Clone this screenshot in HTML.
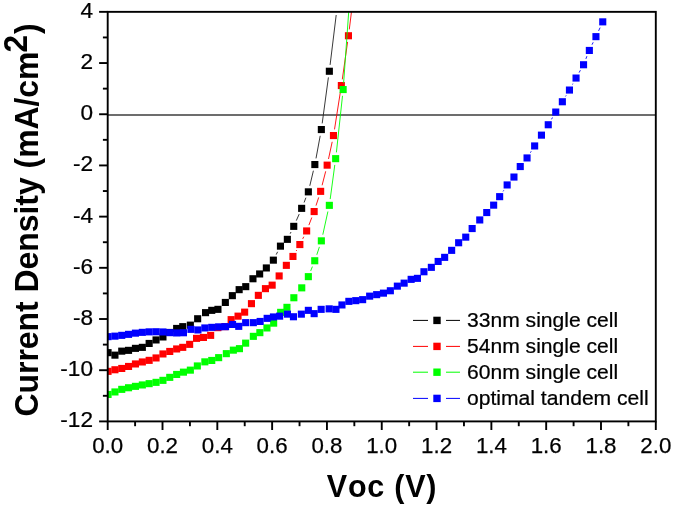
<!DOCTYPE html>
<html><head><meta charset="utf-8"><title>JV curves</title>
<style>html,body{margin:0;padding:0;background:#fff;}body{width:675px;height:506px;overflow:hidden;position:relative;font-family:"Liberation Sans",Arial,sans-serif;}</style>
</head><body>
<svg width="675" height="506" viewBox="0 0 675 506" style="position:absolute;left:0;top:0">
<rect width="675" height="506" fill="#fff"/>
<line x1="107.7" y1="115.0" x2="655.8" y2="115.0" stroke="#3c3c3c" stroke-width="1.3"/>
<defs><clipPath id="c"><rect x="107.7" y="11.85" width="548.0999999999999" height="409.54999999999995"/></clipPath></defs>
<g clip-path="url(#c)">
<line x1="276.2" y1="254.6" x2="277.6" y2="251.8" stroke="#222" stroke-width="0.9"/>
<line x1="290.2" y1="233.7" x2="291.0" y2="232.0" stroke="#222" stroke-width="0.9"/>
<line x1="296.3" y1="220.6" x2="299.2" y2="214.1" stroke="#222" stroke-width="0.9"/>
<line x1="304.1" y1="202.5" x2="305.9" y2="197.7" stroke="#222" stroke-width="0.9"/>
<line x1="309.8" y1="185.8" x2="313.4" y2="170.7" stroke="#222" stroke-width="0.9"/>
<line x1="316.0" y1="158.4" x2="320.2" y2="135.8" stroke="#222" stroke-width="0.9"/>
<line x1="322.2" y1="123.4" x2="328.4" y2="77.4" stroke="#222" stroke-width="0.9"/>
<line x1="330.1" y1="64.9" x2="336.2" y2="15.0" stroke="#222" stroke-width="0.9"/>
<rect x="104.5" y="349.1" width="7.1" height="7.1" fill="#000"/>
<rect x="111.4" y="351.6" width="7.1" height="7.1" fill="#000"/>
<rect x="118.2" y="347.6" width="7.1" height="7.1" fill="#000"/>
<rect x="125.0" y="346.8" width="7.1" height="7.1" fill="#000"/>
<rect x="131.9" y="344.8" width="7.1" height="7.1" fill="#000"/>
<rect x="138.8" y="343.8" width="7.1" height="7.1" fill="#000"/>
<rect x="145.6" y="339.9" width="7.1" height="7.1" fill="#000"/>
<rect x="152.5" y="336.4" width="7.1" height="7.1" fill="#000"/>
<rect x="159.4" y="333.4" width="7.1" height="7.1" fill="#000"/>
<rect x="166.2" y="328.9" width="7.1" height="7.1" fill="#000"/>
<rect x="173.1" y="324.9" width="7.1" height="7.1" fill="#000"/>
<rect x="179.2" y="323.1" width="7.1" height="7.1" fill="#000"/>
<rect x="186.8" y="321.6" width="7.1" height="7.1" fill="#000"/>
<rect x="194.1" y="315.2" width="7.1" height="7.1" fill="#000"/>
<rect x="202.0" y="309.1" width="7.1" height="7.1" fill="#000"/>
<rect x="208.2" y="306.8" width="7.1" height="7.1" fill="#000"/>
<rect x="214.4" y="305.8" width="7.1" height="7.1" fill="#000"/>
<rect x="221.8" y="298.9" width="7.1" height="7.1" fill="#000"/>
<rect x="228.8" y="292.1" width="7.1" height="7.1" fill="#000"/>
<rect x="235.6" y="286.1" width="7.1" height="7.1" fill="#000"/>
<rect x="242.2" y="283.1" width="7.1" height="7.1" fill="#000"/>
<rect x="249.4" y="275.2" width="7.1" height="7.1" fill="#000"/>
<rect x="256.1" y="270.4" width="7.1" height="7.1" fill="#000"/>
<rect x="262.8" y="264.4" width="7.1" height="7.1" fill="#000"/>
<rect x="269.8" y="256.6" width="7.1" height="7.1" fill="#000"/>
<rect x="276.9" y="242.6" width="7.1" height="7.1" fill="#000"/>
<rect x="283.8" y="235.8" width="7.1" height="7.1" fill="#000"/>
<rect x="290.2" y="222.8" width="7.1" height="7.1" fill="#000"/>
<rect x="298.1" y="204.8" width="7.1" height="7.1" fill="#000"/>
<rect x="304.8" y="188.3" width="7.1" height="7.1" fill="#000"/>
<rect x="311.3" y="161.0" width="7.1" height="7.1" fill="#000"/>
<rect x="317.8" y="126.0" width="7.1" height="7.1" fill="#000"/>
<rect x="325.8" y="67.7" width="7.1" height="7.1" fill="#000"/>
<line x1="296.2" y1="251.0" x2="296.7" y2="250.1" stroke="#ff0000" stroke-width="0.9"/>
<line x1="302.7" y1="238.9" x2="303.8" y2="236.7" stroke="#ff0000" stroke-width="0.9"/>
<line x1="308.9" y1="225.1" x2="311.8" y2="217.5" stroke="#ff0000" stroke-width="0.9"/>
<line x1="316.0" y1="205.6" x2="318.7" y2="197.4" stroke="#ff0000" stroke-width="0.9"/>
<line x1="322.1" y1="185.3" x2="325.7" y2="171.3" stroke="#ff0000" stroke-width="0.9"/>
<line x1="328.5" y1="159.0" x2="332.2" y2="141.8" stroke="#ff0000" stroke-width="0.9"/>
<line x1="334.5" y1="129.4" x2="340.4" y2="91.8" stroke="#ff0000" stroke-width="0.9"/>
<line x1="342.3" y1="79.4" x2="347.6" y2="41.9" stroke="#ff0000" stroke-width="0.9"/>
<line x1="349.3" y1="29.4" x2="351.8" y2="9.0" stroke="#ff0000" stroke-width="0.9"/>
<rect x="104.5" y="367.8" width="7.1" height="7.1" fill="#ff0000"/>
<rect x="111.4" y="366.2" width="7.1" height="7.1" fill="#ff0000"/>
<rect x="118.2" y="364.9" width="7.1" height="7.1" fill="#ff0000"/>
<rect x="125.0" y="362.9" width="7.1" height="7.1" fill="#ff0000"/>
<rect x="131.9" y="360.4" width="7.1" height="7.1" fill="#ff0000"/>
<rect x="138.8" y="358.4" width="7.1" height="7.1" fill="#ff0000"/>
<rect x="145.6" y="356.8" width="7.1" height="7.1" fill="#ff0000"/>
<rect x="152.5" y="354.4" width="7.1" height="7.1" fill="#ff0000"/>
<rect x="159.4" y="350.4" width="7.1" height="7.1" fill="#ff0000"/>
<rect x="166.2" y="347.9" width="7.1" height="7.1" fill="#ff0000"/>
<rect x="173.1" y="345.4" width="7.1" height="7.1" fill="#ff0000"/>
<rect x="179.2" y="343.8" width="7.1" height="7.1" fill="#ff0000"/>
<rect x="186.1" y="340.8" width="7.1" height="7.1" fill="#ff0000"/>
<rect x="193.0" y="334.8" width="7.1" height="7.1" fill="#ff0000"/>
<rect x="199.9" y="333.9" width="7.1" height="7.1" fill="#ff0000"/>
<rect x="207.1" y="331.8" width="7.1" height="7.1" fill="#ff0000"/>
<rect x="214.3" y="324.1" width="7.1" height="7.1" fill="#ff0000"/>
<rect x="221.2" y="323.1" width="7.1" height="7.1" fill="#ff0000"/>
<rect x="227.6" y="316.1" width="7.1" height="7.1" fill="#ff0000"/>
<rect x="234.5" y="312.6" width="7.1" height="7.1" fill="#ff0000"/>
<rect x="241.1" y="308.6" width="7.1" height="7.1" fill="#ff0000"/>
<rect x="247.9" y="300.1" width="7.1" height="7.1" fill="#ff0000"/>
<rect x="254.8" y="291.8" width="7.1" height="7.1" fill="#ff0000"/>
<rect x="261.9" y="285.1" width="7.1" height="7.1" fill="#ff0000"/>
<rect x="268.6" y="281.6" width="7.1" height="7.1" fill="#ff0000"/>
<rect x="275.6" y="272.4" width="7.1" height="7.1" fill="#ff0000"/>
<rect x="282.8" y="261.8" width="7.1" height="7.1" fill="#ff0000"/>
<rect x="289.4" y="252.9" width="7.1" height="7.1" fill="#ff0000"/>
<rect x="296.3" y="241.0" width="7.1" height="7.1" fill="#ff0000"/>
<rect x="303.1" y="227.4" width="7.1" height="7.1" fill="#ff0000"/>
<rect x="310.6" y="208.0" width="7.1" height="7.1" fill="#ff0000"/>
<rect x="317.1" y="187.8" width="7.1" height="7.1" fill="#ff0000"/>
<rect x="323.6" y="161.6" width="7.1" height="7.1" fill="#ff0000"/>
<rect x="329.9" y="132.0" width="7.1" height="7.1" fill="#ff0000"/>
<rect x="337.8" y="82.0" width="7.1" height="7.1" fill="#ff0000"/>
<rect x="344.9" y="32.2" width="7.1" height="7.1" fill="#ff0000"/>
<line x1="310.7" y1="270.9" x2="312.4" y2="266.6" stroke="#00ff00" stroke-width="0.9"/>
<line x1="316.8" y1="254.8" x2="319.4" y2="246.9" stroke="#00ff00" stroke-width="0.9"/>
<line x1="322.8" y1="234.7" x2="327.9" y2="211.5" stroke="#00ff00" stroke-width="0.9"/>
<line x1="330.2" y1="199.1" x2="334.8" y2="164.9" stroke="#00ff00" stroke-width="0.9"/>
<line x1="336.4" y1="152.4" x2="342.5" y2="95.8" stroke="#00ff00" stroke-width="0.9"/>
<line x1="343.6" y1="83.2" x2="348.9" y2="9.0" stroke="#00ff00" stroke-width="0.9"/>
<rect x="104.5" y="390.9" width="7.1" height="7.1" fill="#00ff00"/>
<rect x="111.4" y="388.4" width="7.1" height="7.1" fill="#00ff00"/>
<rect x="118.2" y="385.8" width="7.1" height="7.1" fill="#00ff00"/>
<rect x="125.0" y="384.2" width="7.1" height="7.1" fill="#00ff00"/>
<rect x="131.9" y="382.8" width="7.1" height="7.1" fill="#00ff00"/>
<rect x="138.8" y="381.4" width="7.1" height="7.1" fill="#00ff00"/>
<rect x="145.6" y="380.1" width="7.1" height="7.1" fill="#00ff00"/>
<rect x="152.5" y="378.8" width="7.1" height="7.1" fill="#00ff00"/>
<rect x="159.4" y="376.8" width="7.1" height="7.1" fill="#00ff00"/>
<rect x="166.2" y="373.8" width="7.1" height="7.1" fill="#00ff00"/>
<rect x="173.1" y="370.9" width="7.1" height="7.1" fill="#00ff00"/>
<rect x="179.9" y="368.6" width="7.1" height="7.1" fill="#00ff00"/>
<rect x="186.8" y="366.6" width="7.1" height="7.1" fill="#00ff00"/>
<rect x="193.8" y="362.4" width="7.1" height="7.1" fill="#00ff00"/>
<rect x="201.3" y="358.3" width="7.1" height="7.1" fill="#00ff00"/>
<rect x="208.2" y="356.9" width="7.1" height="7.1" fill="#00ff00"/>
<rect x="215.1" y="354.1" width="7.1" height="7.1" fill="#00ff00"/>
<rect x="222.8" y="350.1" width="7.1" height="7.1" fill="#00ff00"/>
<rect x="229.8" y="346.6" width="7.1" height="7.1" fill="#00ff00"/>
<rect x="235.9" y="345.1" width="7.1" height="7.1" fill="#00ff00"/>
<rect x="242.1" y="339.6" width="7.1" height="7.1" fill="#00ff00"/>
<rect x="249.8" y="332.8" width="7.1" height="7.1" fill="#00ff00"/>
<rect x="256.3" y="329.1" width="7.1" height="7.1" fill="#00ff00"/>
<rect x="263.4" y="324.4" width="7.1" height="7.1" fill="#00ff00"/>
<rect x="270.1" y="319.6" width="7.1" height="7.1" fill="#00ff00"/>
<rect x="277.1" y="308.8" width="7.1" height="7.1" fill="#00ff00"/>
<rect x="283.4" y="303.8" width="7.1" height="7.1" fill="#00ff00"/>
<rect x="290.3" y="294.2" width="7.1" height="7.1" fill="#00ff00"/>
<rect x="298.2" y="284.3" width="7.1" height="7.1" fill="#00ff00"/>
<rect x="304.8" y="273.1" width="7.1" height="7.1" fill="#00ff00"/>
<rect x="311.2" y="257.2" width="7.1" height="7.1" fill="#00ff00"/>
<rect x="317.8" y="237.3" width="7.1" height="7.1" fill="#00ff00"/>
<rect x="325.8" y="201.8" width="7.1" height="7.1" fill="#00ff00"/>
<rect x="332.1" y="155.1" width="7.1" height="7.1" fill="#00ff00"/>
<rect x="339.6" y="86.0" width="7.1" height="7.1" fill="#00ff00"/>
<line x1="503.1" y1="191.4" x2="503.8" y2="190.3" stroke="#0000ff" stroke-width="0.9"/>
<line x1="530.4" y1="152.7" x2="531.2" y2="151.3" stroke="#0000ff" stroke-width="0.9"/>
<line x1="551.5" y1="119.3" x2="552.5" y2="117.5" stroke="#0000ff" stroke-width="0.9"/>
<line x1="565.5" y1="96.4" x2="566.2" y2="95.4" stroke="#0000ff" stroke-width="0.9"/>
<line x1="572.5" y1="84.5" x2="572.9" y2="83.6" stroke="#0000ff" stroke-width="0.9"/>
<line x1="579.1" y1="72.6" x2="580.4" y2="70.2" stroke="#0000ff" stroke-width="0.9"/>
<line x1="585.9" y1="58.9" x2="586.9" y2="56.2" stroke="#0000ff" stroke-width="0.9"/>
<line x1="592.0" y1="44.7" x2="593.2" y2="42.3" stroke="#0000ff" stroke-width="0.9"/>
<line x1="598.6" y1="30.9" x2="600.1" y2="27.6" stroke="#0000ff" stroke-width="0.9"/>
<rect x="104.5" y="333.1" width="7.1" height="7.1" fill="#0000ff"/>
<rect x="111.4" y="332.6" width="7.1" height="7.1" fill="#0000ff"/>
<rect x="118.2" y="331.8" width="7.1" height="7.1" fill="#0000ff"/>
<rect x="125.0" y="330.8" width="7.1" height="7.1" fill="#0000ff"/>
<rect x="131.9" y="329.6" width="7.1" height="7.1" fill="#0000ff"/>
<rect x="138.8" y="328.8" width="7.1" height="7.1" fill="#0000ff"/>
<rect x="145.6" y="328.3" width="7.1" height="7.1" fill="#0000ff"/>
<rect x="152.5" y="328.2" width="7.1" height="7.1" fill="#0000ff"/>
<rect x="159.4" y="328.4" width="7.1" height="7.1" fill="#0000ff"/>
<rect x="166.2" y="329.1" width="7.1" height="7.1" fill="#0000ff"/>
<rect x="173.1" y="329.4" width="7.1" height="7.1" fill="#0000ff"/>
<rect x="179.9" y="329.2" width="7.1" height="7.1" fill="#0000ff"/>
<rect x="187.4" y="325.8" width="7.1" height="7.1" fill="#0000ff"/>
<rect x="194.4" y="326.4" width="7.1" height="7.1" fill="#0000ff"/>
<rect x="201.3" y="324.4" width="7.1" height="7.1" fill="#0000ff"/>
<rect x="208.2" y="323.8" width="7.1" height="7.1" fill="#0000ff"/>
<rect x="215.1" y="323.3" width="7.1" height="7.1" fill="#0000ff"/>
<rect x="222.0" y="323.1" width="7.1" height="7.1" fill="#0000ff"/>
<rect x="229.0" y="320.9" width="7.1" height="7.1" fill="#0000ff"/>
<rect x="235.2" y="322.8" width="7.1" height="7.1" fill="#0000ff"/>
<rect x="242.1" y="319.1" width="7.1" height="7.1" fill="#0000ff"/>
<rect x="249.8" y="319.1" width="7.1" height="7.1" fill="#0000ff"/>
<rect x="256.6" y="317.9" width="7.1" height="7.1" fill="#0000ff"/>
<rect x="263.6" y="314.8" width="7.1" height="7.1" fill="#0000ff"/>
<rect x="269.9" y="313.4" width="7.1" height="7.1" fill="#0000ff"/>
<rect x="276.1" y="312.6" width="7.1" height="7.1" fill="#0000ff"/>
<rect x="283.9" y="310.6" width="7.1" height="7.1" fill="#0000ff"/>
<rect x="289.9" y="313.2" width="7.1" height="7.1" fill="#0000ff"/>
<rect x="297.8" y="310.6" width="7.1" height="7.1" fill="#0000ff"/>
<rect x="304.8" y="306.8" width="7.1" height="7.1" fill="#0000ff"/>
<rect x="310.6" y="310.1" width="7.1" height="7.1" fill="#0000ff"/>
<rect x="317.6" y="305.8" width="7.1" height="7.1" fill="#0000ff"/>
<rect x="325.6" y="305.3" width="7.1" height="7.1" fill="#0000ff"/>
<rect x="332.4" y="305.8" width="7.1" height="7.1" fill="#0000ff"/>
<rect x="338.4" y="301.4" width="7.1" height="7.1" fill="#0000ff"/>
<rect x="345.3" y="297.8" width="7.1" height="7.1" fill="#0000ff"/>
<rect x="352.2" y="297.1" width="7.1" height="7.1" fill="#0000ff"/>
<rect x="359.1" y="296.1" width="7.1" height="7.1" fill="#0000ff"/>
<rect x="366.1" y="292.6" width="7.1" height="7.1" fill="#0000ff"/>
<rect x="373.1" y="291.1" width="7.1" height="7.1" fill="#0000ff"/>
<rect x="379.9" y="289.6" width="7.1" height="7.1" fill="#0000ff"/>
<rect x="386.8" y="287.2" width="7.1" height="7.1" fill="#0000ff"/>
<rect x="393.8" y="282.6" width="7.1" height="7.1" fill="#0000ff"/>
<rect x="400.6" y="279.6" width="7.1" height="7.1" fill="#0000ff"/>
<rect x="407.6" y="275.8" width="7.1" height="7.1" fill="#0000ff"/>
<rect x="413.9" y="274.8" width="7.1" height="7.1" fill="#0000ff"/>
<rect x="420.4" y="268.2" width="7.1" height="7.1" fill="#0000ff"/>
<rect x="427.8" y="263.8" width="7.1" height="7.1" fill="#0000ff"/>
<rect x="434.6" y="257.9" width="7.1" height="7.1" fill="#0000ff"/>
<rect x="441.1" y="253.8" width="7.1" height="7.1" fill="#0000ff"/>
<rect x="448.1" y="246.8" width="7.1" height="7.1" fill="#0000ff"/>
<rect x="455.1" y="239.2" width="7.1" height="7.1" fill="#0000ff"/>
<rect x="462.2" y="233.6" width="7.1" height="7.1" fill="#0000ff"/>
<rect x="468.6" y="225.0" width="7.1" height="7.1" fill="#0000ff"/>
<rect x="476.2" y="216.4" width="7.1" height="7.1" fill="#0000ff"/>
<rect x="483.2" y="209.0" width="7.1" height="7.1" fill="#0000ff"/>
<rect x="490.1" y="201.6" width="7.1" height="7.1" fill="#0000ff"/>
<rect x="496.1" y="193.1" width="7.1" height="7.1" fill="#0000ff"/>
<rect x="503.6" y="181.4" width="7.1" height="7.1" fill="#0000ff"/>
<rect x="510.4" y="173.5" width="7.1" height="7.1" fill="#0000ff"/>
<rect x="516.7" y="163.0" width="7.1" height="7.1" fill="#0000ff"/>
<rect x="523.5" y="154.4" width="7.1" height="7.1" fill="#0000ff"/>
<rect x="531.1" y="142.4" width="7.1" height="7.1" fill="#0000ff"/>
<rect x="537.9" y="131.6" width="7.1" height="7.1" fill="#0000ff"/>
<rect x="544.7" y="121.2" width="7.1" height="7.1" fill="#0000ff"/>
<rect x="552.2" y="108.5" width="7.1" height="7.1" fill="#0000ff"/>
<rect x="558.8" y="98.2" width="7.1" height="7.1" fill="#0000ff"/>
<rect x="565.9" y="86.5" width="7.1" height="7.1" fill="#0000ff"/>
<rect x="572.5" y="74.5" width="7.1" height="7.1" fill="#0000ff"/>
<rect x="580.0" y="61.2" width="7.1" height="7.1" fill="#0000ff"/>
<rect x="585.8" y="46.9" width="7.1" height="7.1" fill="#0000ff"/>
<rect x="592.4" y="33.1" width="7.1" height="7.1" fill="#0000ff"/>
<rect x="599.2" y="18.3" width="7.1" height="7.1" fill="#0000ff"/>
</g>
<rect x="107.7" y="11.85" width="548.0999999999999" height="409.54999999999995" fill="none" stroke="#000" stroke-width="1.9"/>
<line x1="107.70" y1="421.4" x2="107.70" y2="430.0" stroke="#000" stroke-width="1.9"/>
<line x1="135.10" y1="421.4" x2="135.10" y2="426.2" stroke="#000" stroke-width="1.9"/>
<line x1="162.51" y1="421.4" x2="162.51" y2="430.0" stroke="#000" stroke-width="1.9"/>
<line x1="189.92" y1="421.4" x2="189.92" y2="426.2" stroke="#000" stroke-width="1.9"/>
<line x1="217.32" y1="421.4" x2="217.32" y2="430.0" stroke="#000" stroke-width="1.9"/>
<line x1="244.72" y1="421.4" x2="244.72" y2="426.2" stroke="#000" stroke-width="1.9"/>
<line x1="272.13" y1="421.4" x2="272.13" y2="430.0" stroke="#000" stroke-width="1.9"/>
<line x1="299.53" y1="421.4" x2="299.53" y2="426.2" stroke="#000" stroke-width="1.9"/>
<line x1="326.94" y1="421.4" x2="326.94" y2="430.0" stroke="#000" stroke-width="1.9"/>
<line x1="354.34" y1="421.4" x2="354.34" y2="426.2" stroke="#000" stroke-width="1.9"/>
<line x1="381.75" y1="421.4" x2="381.75" y2="430.0" stroke="#000" stroke-width="1.9"/>
<line x1="409.15" y1="421.4" x2="409.15" y2="426.2" stroke="#000" stroke-width="1.9"/>
<line x1="436.56" y1="421.4" x2="436.56" y2="430.0" stroke="#000" stroke-width="1.9"/>
<line x1="463.96" y1="421.4" x2="463.96" y2="426.2" stroke="#000" stroke-width="1.9"/>
<line x1="491.37" y1="421.4" x2="491.37" y2="430.0" stroke="#000" stroke-width="1.9"/>
<line x1="518.77" y1="421.4" x2="518.77" y2="426.2" stroke="#000" stroke-width="1.9"/>
<line x1="546.18" y1="421.4" x2="546.18" y2="430.0" stroke="#000" stroke-width="1.9"/>
<line x1="573.59" y1="421.4" x2="573.59" y2="426.2" stroke="#000" stroke-width="1.9"/>
<line x1="600.99" y1="421.4" x2="600.99" y2="430.0" stroke="#000" stroke-width="1.9"/>
<line x1="628.39" y1="421.4" x2="628.39" y2="426.2" stroke="#000" stroke-width="1.9"/>
<line x1="655.80" y1="421.4" x2="655.80" y2="430.0" stroke="#000" stroke-width="1.9"/>
<line x1="99.10000000000001" y1="11.85" x2="107.7" y2="11.85" stroke="#000" stroke-width="1.9"/>
<line x1="102.9" y1="37.45" x2="107.7" y2="37.45" stroke="#000" stroke-width="1.9"/>
<line x1="99.10000000000001" y1="63.04" x2="107.7" y2="63.04" stroke="#000" stroke-width="1.9"/>
<line x1="102.9" y1="88.64" x2="107.7" y2="88.64" stroke="#000" stroke-width="1.9"/>
<line x1="99.10000000000001" y1="114.24" x2="107.7" y2="114.24" stroke="#000" stroke-width="1.9"/>
<line x1="102.9" y1="139.83" x2="107.7" y2="139.83" stroke="#000" stroke-width="1.9"/>
<line x1="99.10000000000001" y1="165.43" x2="107.7" y2="165.43" stroke="#000" stroke-width="1.9"/>
<line x1="102.9" y1="191.03" x2="107.7" y2="191.03" stroke="#000" stroke-width="1.9"/>
<line x1="99.10000000000001" y1="216.62" x2="107.7" y2="216.62" stroke="#000" stroke-width="1.9"/>
<line x1="102.9" y1="242.22" x2="107.7" y2="242.22" stroke="#000" stroke-width="1.9"/>
<line x1="99.10000000000001" y1="267.82" x2="107.7" y2="267.82" stroke="#000" stroke-width="1.9"/>
<line x1="102.9" y1="293.42" x2="107.7" y2="293.42" stroke="#000" stroke-width="1.9"/>
<line x1="99.10000000000001" y1="319.01" x2="107.7" y2="319.01" stroke="#000" stroke-width="1.9"/>
<line x1="102.9" y1="344.61" x2="107.7" y2="344.61" stroke="#000" stroke-width="1.9"/>
<line x1="99.10000000000001" y1="370.21" x2="107.7" y2="370.21" stroke="#000" stroke-width="1.9"/>
<line x1="102.9" y1="395.80" x2="107.7" y2="395.80" stroke="#000" stroke-width="1.9"/>
<line x1="99.10000000000001" y1="421.40" x2="107.7" y2="421.40" stroke="#000" stroke-width="1.9"/>
<g font-family="'Liberation Sans', Arial, sans-serif" font-size="22.6" fill="#000" stroke="#000" stroke-width="0.25">
<text transform="translate(107.7,452.6) scale(1,1)" font-size="22.3" text-anchor="middle">0.0</text>
<text transform="translate(162.5,452.6) scale(1,1)" font-size="22.3" text-anchor="middle">0.2</text>
<text transform="translate(217.3,452.6) scale(1,1)" font-size="22.3" text-anchor="middle">0.4</text>
<text transform="translate(272.1,452.6) scale(1,1)" font-size="22.3" text-anchor="middle">0.6</text>
<text transform="translate(326.9,452.6) scale(1,1)" font-size="22.3" text-anchor="middle">0.8</text>
<text transform="translate(381.7,452.6) scale(1,1)" font-size="22.3" text-anchor="middle">1.0</text>
<text transform="translate(436.6,452.6) scale(1,1)" font-size="22.3" text-anchor="middle">1.2</text>
<text transform="translate(491.4,452.6) scale(1,1)" font-size="22.3" text-anchor="middle">1.4</text>
<text transform="translate(546.2,452.6) scale(1,1)" font-size="22.3" text-anchor="middle">1.6</text>
<text transform="translate(601.0,452.6) scale(1,1)" font-size="22.3" text-anchor="middle">1.8</text>
<text transform="translate(655.8,452.6) scale(1,1)" font-size="22.3" text-anchor="middle">2.0</text>
<text transform="translate(93.0,17.8) scale(1,0.985)" text-anchor="end">4</text>
<text transform="translate(93.0,68.9) scale(1,0.985)" text-anchor="end">2</text>
<text transform="translate(93.0,120.1) scale(1,0.985)" text-anchor="end">0</text>
<text transform="translate(93.0,171.3) scale(1,0.985)" text-anchor="end">-2</text>
<text transform="translate(93.0,222.5) scale(1,0.985)" text-anchor="end">-4</text>
<text transform="translate(93.0,273.7) scale(1,0.985)" text-anchor="end">-6</text>
<text transform="translate(93.0,324.9) scale(1,0.985)" text-anchor="end">-8</text>
<text transform="translate(93.0,376.1) scale(1,0.985)" text-anchor="end">-10</text>
<text transform="translate(93.0,427.3) scale(1,0.985)" text-anchor="end">-12</text>
</g>
<text x="382.0" y="497.4" text-anchor="middle" font-family="'Liberation Sans', Arial, sans-serif" font-weight="bold" font-size="30.5" letter-spacing="0.75" style="font-kerning:none">Voc (V)</text>
<g transform="translate(37.8,416.5) rotate(-90) scale(1,1.05)" font-family="'Liberation Sans', Arial, sans-serif" font-weight="bold" font-size="31.9" fill="#000"><text x="0" y="0">Current Density (mA/cm<tspan dy="-9.9" dx="-0.9" font-size="31.6">2</tspan><tspan dy="9.9" dx="0.9">)</tspan></text></g>
<line x1="413" y1="320.4" x2="428" y2="320.4" stroke="#000" stroke-width="1"/>
<line x1="446" y1="320.4" x2="460" y2="320.4" stroke="#000" stroke-width="1"/>
<rect x="433.3" y="316.7" width="7.4" height="7.4" fill="#000"/>
<text transform="translate(467,327.4) scale(1,0.99)" font-family="'Liberation Sans', Arial, sans-serif" font-size="21.1" fill="#000" stroke="#000" stroke-width="0.25">33nm single cell</text>
<line x1="413" y1="346.4" x2="428" y2="346.4" stroke="#ff0000" stroke-width="1"/>
<line x1="446" y1="346.4" x2="460" y2="346.4" stroke="#ff0000" stroke-width="1"/>
<rect x="433.3" y="342.7" width="7.4" height="7.4" fill="#ff0000"/>
<text transform="translate(467,353.4) scale(1,0.99)" font-family="'Liberation Sans', Arial, sans-serif" font-size="21.1" fill="#000" stroke="#000" stroke-width="0.25">54nm single cell</text>
<line x1="413" y1="372.2" x2="428" y2="372.2" stroke="#00ff00" stroke-width="1"/>
<line x1="446" y1="372.2" x2="460" y2="372.2" stroke="#00ff00" stroke-width="1"/>
<rect x="433.3" y="368.5" width="7.4" height="7.4" fill="#00ff00"/>
<text transform="translate(467,379.2) scale(1,0.99)" font-family="'Liberation Sans', Arial, sans-serif" font-size="21.1" fill="#000" stroke="#000" stroke-width="0.25">60nm single cell</text>
<line x1="413" y1="398.4" x2="428" y2="398.4" stroke="#0000ff" stroke-width="1"/>
<line x1="446" y1="398.4" x2="460" y2="398.4" stroke="#0000ff" stroke-width="1"/>
<rect x="433.3" y="394.7" width="7.4" height="7.4" fill="#0000ff"/>
<text transform="translate(467,405.4) scale(1,0.99)" font-family="'Liberation Sans', Arial, sans-serif" font-size="21.1" fill="#000" stroke="#000" stroke-width="0.25">optimal tandem cell</text>
</svg>
</body></html>
